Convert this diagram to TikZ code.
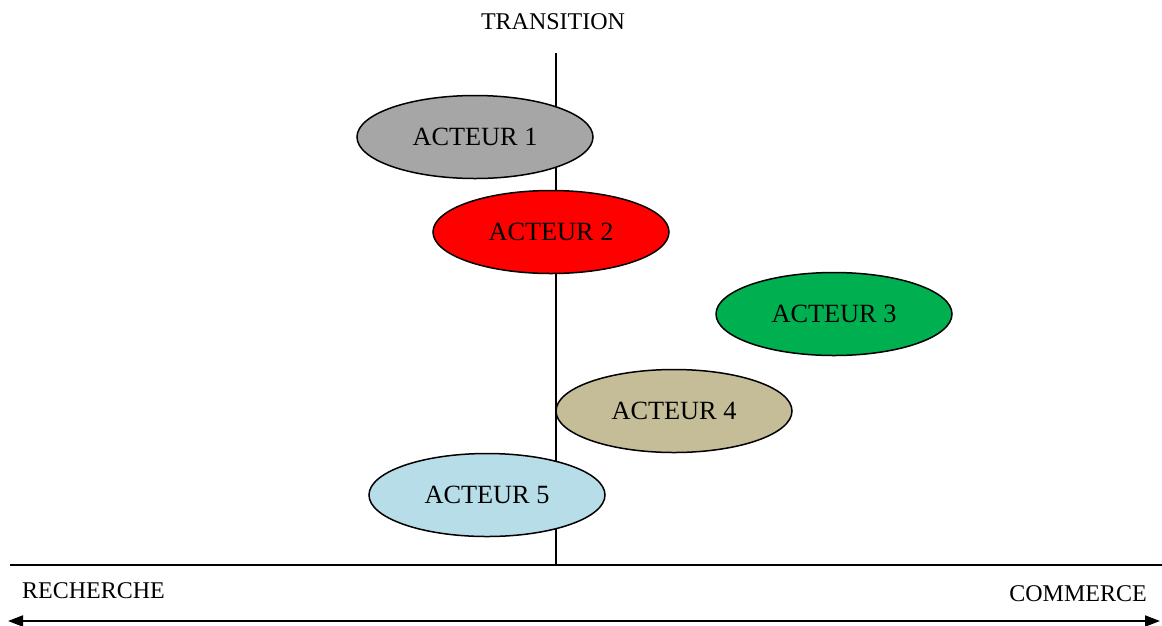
\documentclass[tikz,border=0pt]{standalone}
\usepackage{fontspec}
\setmainfont{Liberation Serif}
\usetikzlibrary{shapes.geometric,arrows.meta}
\definecolor{cgray}{HTML}{A6A6A6}
\definecolor{cred}{HTML}{FF0000}
\definecolor{cgreen}{HTML}{00B050}
\definecolor{ctan}{HTML}{C4BD97}
\definecolor{cblue}{HTML}{B7DDE8}
\tikzset{
  actor/.style={ellipse, draw=black, line width=1.5pt, minimum width=236pt, minimum height=83pt, inner sep=0pt, font=\fontsize{26.3}{29}\selectfont},
  axislabel/.style={font=\fontsize{24}{27}\selectfont, inner sep=0pt},
  axisline/.style={line width=2pt},
}
\begin{document}
\begin{tikzpicture}[x=1pt,y=-1pt]
\useasboundingbox (0,0) rectangle (1162,625);
\node[axislabel] (trans) at (553,22) {TRANSITION};
\node[axislabel] (rech) at (93.5,591) {RECHERCHE};
\node[axislabel] (comm) at (1078,594) {COMMERCE};
\coordinate (vtop) at (556,53);
\coordinate (vbot) at (556,565);
\coordinate (hl) at (10,565);
\coordinate (hr) at (1162,565);
\coordinate (al) at (8,621);
\coordinate (ar) at (1160,621);
\draw[axisline] (vtop) -- (vbot);
\draw[axisline] (hl) -- (hr);
\draw[axisline, {Triangle[length=15pt,width=11pt]}-{Triangle[length=15pt,width=11pt]}] (al) -- (ar);
\node[actor, fill=cgray] (a1) at (475,137) {ACTEUR 1};
\node[actor, fill=cred] (a2) at (551,232) {ACTEUR 2};
\node[actor, fill=cgreen] (a3) at (834,314) {ACTEUR 3};
\node[actor, fill=ctan] (a4) at (674,411) {ACTEUR 4};
\node[actor, fill=cblue] (a5) at (487,495) {ACTEUR 5};
\end{tikzpicture}
\end{document}
